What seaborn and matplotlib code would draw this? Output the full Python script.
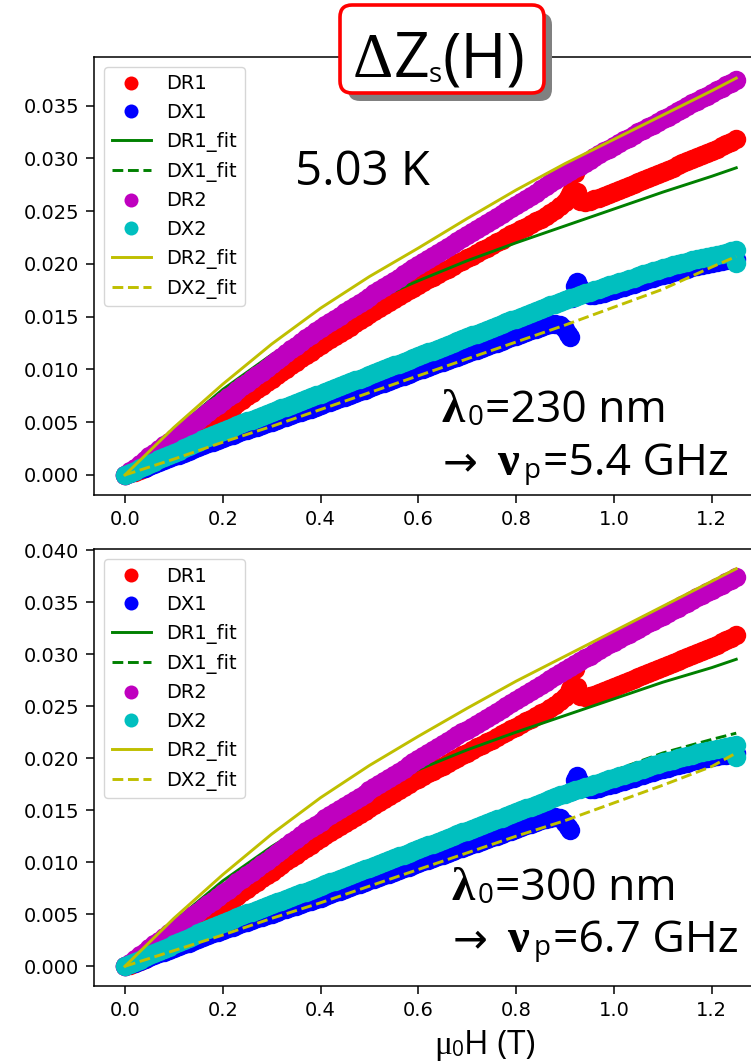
import matplotlib
matplotlib.use("Agg")
import matplotlib.pyplot as plt
import seaborn as sns
from matplotlib.patches import FancyBboxPatch
from matplotlib.transforms import IdentityTransform

W, H = 751, 1061

# ---------------- data ----------------
FIELD = [round(0.01 * i, 2) for i in range(126)]

DR1 = [0.00000, 0.00015, 0.00030, 0.00050, 0.00070, 0.00095, 0.00120, 0.00150, 0.00180, 0.00215,
       0.00250, 0.00282, 0.00314, 0.00347, 0.00380, 0.00414, 0.00448, 0.00481, 0.00514, 0.00547,
       0.00580, 0.00613, 0.00646, 0.00679, 0.00712, 0.00745, 0.00778, 0.00811, 0.00844, 0.00877,
       0.00910, 0.00943, 0.00976, 0.01008, 0.01040, 0.01072, 0.01104, 0.01136, 0.01168, 0.01200,
       0.01232, 0.01261, 0.01290, 0.01319, 0.01348, 0.01377, 0.01406, 0.01435, 0.01464, 0.01493,
       0.01522, 0.01551, 0.01580, 0.01608, 0.01636, 0.01664, 0.01692, 0.01720, 0.01748, 0.01776,
       0.01804, 0.01829, 0.01854, 0.01879, 0.01904, 0.01929, 0.01954, 0.01979, 0.02004, 0.02029,
       0.02054, 0.02079, 0.02104, 0.02129, 0.02154, 0.02179, 0.02204, 0.02229, 0.02254, 0.02279,
       0.02304, 0.02329, 0.02354, 0.02379, 0.02404, 0.02429, 0.02456, 0.02484, 0.02512, 0.02545,
       0.02590, 0.02660, 0.02860, 0.02600, 0.02585, 0.02595, 0.02610, 0.02628, 0.02647, 0.02666,
       0.02685, 0.02704, 0.02723, 0.02742, 0.02761, 0.02780, 0.02799, 0.02818, 0.02837, 0.02856,
       0.02875, 0.02894, 0.02913, 0.02932, 0.02951, 0.02970, 0.02990, 0.03010, 0.03030, 0.03050,
       0.03070, 0.03092, 0.03114, 0.03136, 0.03158, 0.03180]
DR1_JUMP_H = [0.905, 0.915, 0.925]
DR1_JUMP = [0.0262, 0.0270, 0.0268]

DX1 = [0.00000, 0.00018, 0.00035, 0.00053, 0.00070, 0.00088, 0.00105, 0.00123, 0.00140, 0.00158,
       0.00175, 0.00193, 0.00210, 0.00228, 0.00245, 0.00263, 0.00280, 0.00298, 0.00315, 0.00333,
       0.00350, 0.00366, 0.00381, 0.00397, 0.00412, 0.00428, 0.00443, 0.00459, 0.00474, 0.00490,
       0.00505, 0.00521, 0.00536, 0.00552, 0.00567, 0.00583, 0.00598, 0.00614, 0.00629, 0.00645,
       0.00660, 0.00677, 0.00693, 0.00710, 0.00726, 0.00743, 0.00759, 0.00776, 0.00792, 0.00809,
       0.00825, 0.00842, 0.00858, 0.00875, 0.00891, 0.00908, 0.00924, 0.00941, 0.00957, 0.00974,
       0.00990, 0.01007, 0.01023, 0.01040, 0.01056, 0.01073, 0.01089, 0.01106, 0.01122, 0.01139,
       0.01155, 0.01172, 0.01188, 0.01205, 0.01221, 0.01238, 0.01254, 0.01271, 0.01287, 0.01304,
       0.01320, 0.01337, 0.01353, 0.01370, 0.01386, 0.01403, 0.01418, 0.01428, 0.01432, 0.01420,
       0.01380, 0.01310, 0.01790, 0.01770, 0.01720, 0.01705, 0.01705, 0.01715, 0.01728, 0.01742,
       0.01756, 0.01770, 0.01784, 0.01798, 0.01812, 0.01826, 0.01840, 0.01854, 0.01868, 0.01882,
       0.01896, 0.01908, 0.01920, 0.01932, 0.01944, 0.01956, 0.01968, 0.01980, 0.01990, 0.02000,
       0.02010, 0.02018, 0.02026, 0.02034, 0.02042, 0.02050]
DX1_JUMP_H = [0.905, 0.915, 0.925]
DX1_JUMP = [0.0134, 0.0168, 0.0183]

DR2 = [0.00000, 0.00035, 0.00070, 0.00105, 0.00140, 0.00175, 0.00210, 0.00245, 0.00280, 0.00315,
       0.00350, 0.00385, 0.00420, 0.00455, 0.00490, 0.00525, 0.00560, 0.00595, 0.00630, 0.00665,
       0.00700, 0.00735, 0.00770, 0.00805, 0.00840, 0.00875, 0.00910, 0.00945, 0.00980, 0.01015,
       0.01050, 0.01085, 0.01120, 0.01155, 0.01190, 0.01225, 0.01260, 0.01295, 0.01330, 0.01360,
       0.01390, 0.01420, 0.01450, 0.01480, 0.01510, 0.01540, 0.01570, 0.01600, 0.01630, 0.01660,
       0.01690, 0.01720, 0.01750, 0.01780, 0.01810, 0.01840, 0.01870, 0.01900, 0.01930, 0.01960,
       0.01990, 0.02019, 0.02047, 0.02076, 0.02104, 0.02133, 0.02161, 0.02190, 0.02218, 0.02247,
       0.02275, 0.02304, 0.02332, 0.02361, 0.02389, 0.02418, 0.02446, 0.02475, 0.02503, 0.02532,
       0.02560, 0.02589, 0.02618, 0.02647, 0.02676, 0.02705, 0.02734, 0.02763, 0.02792, 0.02821,
       0.02850, 0.02877, 0.02904, 0.02931, 0.02958, 0.02985, 0.03012, 0.03039, 0.03066, 0.03093,
       0.03120, 0.03145, 0.03170, 0.03195, 0.03220, 0.03245, 0.03270, 0.03295, 0.03320, 0.03345,
       0.03370, 0.03395, 0.03420, 0.03445, 0.03470, 0.03495, 0.03520, 0.03545, 0.03570, 0.03595,
       0.03620, 0.03644, 0.03668, 0.03692, 0.03716, 0.03740]

DX2 = [0.00000, 0.00021, 0.00042, 0.00063, 0.00084, 0.00105, 0.00126, 0.00147, 0.00168, 0.00189,
       0.00210, 0.00231, 0.00252, 0.00273, 0.00294, 0.00315, 0.00336, 0.00357, 0.00378, 0.00399,
       0.00420, 0.00438, 0.00455, 0.00473, 0.00490, 0.00508, 0.00525, 0.00543, 0.00560, 0.00578,
       0.00595, 0.00613, 0.00630, 0.00648, 0.00665, 0.00683, 0.00700, 0.00718, 0.00735, 0.00753,
       0.00770, 0.00788, 0.00806, 0.00823, 0.00841, 0.00859, 0.00877, 0.00895, 0.00912, 0.00930,
       0.00948, 0.00966, 0.00984, 0.01001, 0.01019, 0.01037, 0.01055, 0.01073, 0.01090, 0.01108,
       0.01126, 0.01144, 0.01162, 0.01179, 0.01197, 0.01215, 0.01233, 0.01251, 0.01268, 0.01286,
       0.01304, 0.01322, 0.01340, 0.01357, 0.01375, 0.01393, 0.01411, 0.01429, 0.01446, 0.01464,
       0.01482, 0.01500, 0.01518, 0.01535, 0.01553, 0.01571, 0.01589, 0.01607, 0.01624, 0.01642,
       0.01660, 0.01675, 0.01690, 0.01705, 0.01720, 0.01735, 0.01750, 0.01765, 0.01780, 0.01795,
       0.01810, 0.01825, 0.01840, 0.01855, 0.01870, 0.01885, 0.01900, 0.01915, 0.01930, 0.01945,
       0.01960, 0.01973, 0.01986, 0.01998, 0.02010, 0.02022, 0.02034, 0.02045, 0.02056, 0.02066,
       0.02076, 0.02086, 0.02096, 0.02106, 0.02118, 0.02130]
DX2_END_H = [1.25]
DX2_END = [0.0201]

FIT_H = [0.0, 0.1, 0.2, 0.3, 0.4, 0.5, 0.6, 0.7, 0.8, 0.9, 1.0, 1.1, 1.2, 1.25]
# panel 1 fits (lambda0 = 230 nm)
DR1_FIT_A = [0, 0.0042, 0.0081, 0.0114, 0.0141, 0.0164, 0.0184, 0.0203, 0.0220, 0.0236, 0.0252, 0.0268, 0.0283, 0.0291]
DX1_FIT_A = [0, 0.0022, 0.0043, 0.0062, 0.0080, 0.0098, 0.0116, 0.0133, 0.0151, 0.0168, 0.0184, 0.0199, 0.0212, 0.0220]
DR2_FIT_A = [0, 0.0045, 0.0086, 0.0124, 0.0158, 0.0188, 0.0215, 0.0243, 0.0270, 0.0295, 0.0318, 0.0341, 0.0364, 0.0376]
DX2_FIT_A = [0, 0.0015, 0.0031, 0.0046, 0.0062, 0.0078, 0.0094, 0.0110, 0.0126, 0.0142, 0.0159, 0.0176, 0.0197, 0.0207]
# panel 2 fits (lambda0 = 300 nm)
DR1_FIT_B = [0, 0.0043, 0.0082, 0.0115, 0.0144, 0.0168, 0.0189, 0.0208, 0.0225, 0.0241, 0.0257, 0.0273, 0.0287, 0.0295]
DX1_FIT_B = [0, 0.0022, 0.0043, 0.0062, 0.0080, 0.0099, 0.0117, 0.0134, 0.0152, 0.0170, 0.0188, 0.0205, 0.0218, 0.0224]
DR2_FIT_B = [0, 0.0046, 0.0088, 0.0127, 0.0162, 0.0193, 0.0221, 0.0248, 0.0274, 0.0298, 0.0322, 0.0346, 0.0370, 0.0382]
DX2_FIT_B = [0, 0.0015, 0.0030, 0.0046, 0.0061, 0.0077, 0.0093, 0.0109, 0.0125, 0.0140, 0.0157, 0.0174, 0.0192, 0.0205]

LABELS = ["DR1", "DX1", "DR1_fit", "DX1_fit", "DR2", "DX2", "DR2_fit", "DX2_fit"]
TICKS_A = [0.000, 0.005, 0.010, 0.015, 0.020, 0.025, 0.030, 0.035]
TICKS_B = [0.000, 0.005, 0.010, 0.015, 0.020, 0.025, 0.030, 0.035, 0.040]
X_TICKS = [0.0, 0.2, 0.4, 0.6, 0.8, 1.0, 1.2]

# ---------------- figure ----------------
plt.rcParams["axes.linewidth"] = 1.1
fig = plt.figure(figsize=(W / 100, H / 100), dpi=100)
renderer = fig.canvas.get_renderer()

SANS = ["Open Sans", "DejaVu Sans"]
SERIF = ["Liberation Serif", "DejaVu Serif"]

MS = 14
LW = 2.1


def pts(ax, x, y, color, label):
    sns.lineplot(x=x, y=y, ax=ax, color=color, marker="o", linestyle="",
                 markersize=MS, markeredgewidth=0, estimator=None, sort=False,
                 label=label)


def fit(ax, y, color, ls, label):
    sns.lineplot(x=FIT_H, y=y, ax=ax, color=color, linestyle=ls, linewidth=LW,
                 estimator=None, label=label)


def panel(rect, fits, ylim, yticks):
    ax = fig.add_axes(rect)
    pts(ax, FIELD + DR1_JUMP_H, DR1 + DR1_JUMP, "r", LABELS[0])
    pts(ax, FIELD + DX1_JUMP_H, DX1 + DX1_JUMP, "b", LABELS[1])
    fit(ax, fits[0], "g", "-", LABELS[2])
    fit(ax, fits[1], "g", "--", LABELS[3])
    pts(ax, FIELD, DR2, "m", LABELS[4])
    pts(ax, FIELD + DX2_END_H, DX2 + DX2_END, "c", LABELS[5])
    fit(ax, fits[2], "y", "-", LABELS[6])
    fit(ax, fits[3], "y", "--", LABELS[7])
    ax.set_xlim(-0.0625, 1.3125)
    ax.set_ylim(*ylim)
    ax.set_xticks(X_TICKS)
    ax.set_xticklabels([f"{v:.1f}" for v in X_TICKS])
    ax.set_yticks(yticks)
    ax.set_yticklabels([f"{v:.3f}" for v in yticks])
    ax.tick_params(labelsize=14, length=6, width=1.1, pad=5)
    ax.set_xlabel("")
    ax.set_ylabel("")
    ax.legend(loc="upper left", fontsize=14, labelspacing=0.5, markerscale=0.72,
              handlelength=2.0, borderpad=0.4)
    return ax


ax1 = panel([94.4 / W, (H - 495) / H, 672.4 / W, 438 / H],
            [DR1_FIT_A, DX1_FIT_A, DR2_FIT_A, DX2_FIT_A], (-0.0019, 0.0396), TICKS_A)
ax2 = panel([94.4 / W, (H - 986) / H, 672.4 / W, 437 / H],
            [DR1_FIT_B, DX1_FIT_B, DR2_FIT_B, DX2_FIT_B], (-0.0019, 0.0401), TICKS_B)


def put(s, x, base, size, family, weight="normal"):
    return fig.text(x / W, 1 - base / H, s, fontsize=size, family=family, weight=weight,
                    ha="left", va="baseline", zorder=10)


def chain(x, base, pieces):
    for s, size, family, weight, dy in pieces:
        t = put(s, x, base + dy, size, family, weight)
        x += t.get_window_extent(renderer).width


# title box with shadow
shadow = FancyBboxPatch((348, H - 101), 204, 88, boxstyle="round,pad=0,rounding_size=12",
                        transform=IdentityTransform(), facecolor="#808080",
                        edgecolor="none", zorder=5)
box = FancyBboxPatch((340, H - 93), 204, 88, boxstyle="round,pad=0,rounding_size=12",
                     transform=IdentityTransform(), facecolor="white",
                     edgecolor="#ff0000", linewidth=2.6, zorder=6)
fig.add_artist(shadow)
fig.add_artist(box)
chain(353, 77, [("Δ", 45, SERIF, "normal", 0),
                ("Z", 45, SANS, "normal", 0),
                ("s", 20, SANS, "normal", 5),
                ("(H)", 45, SANS, "normal", 0)])

# temperature
put("5.03 K", 295, 185, 34, SANS)

# panel 1 annotation
put("λ", 441, 422, 34, SERIF, "bold")
put("0", 468, 425, 20, SANS)
put("=230 nm", 485, 422, 32, SANS)
put("→", 443, 475, 30, ["DejaVu Sans"])
put("ν", 497, 475, 35, SERIF, "bold")
put("p", 524, 478, 20, SANS)
put("=5.4 GHz", 543, 475, 32, SANS)

# panel 2 annotation
put("λ", 451, 900, 34, SERIF, "bold")
put("0", 478, 903, 20, SANS)
put("=300 nm", 495, 900, 32, SANS)
put("→", 453, 952, 30, ["DejaVu Sans"])
put("ν", 507, 952, 35, SERIF, "bold")
put("p", 534, 955, 20, SANS)
put("=6.7 GHz", 553, 952, 32, SANS)

# x label
chain(434, 1054, [("μ", 24, SERIF, "normal", 0),
                  ("0", 15, SANS, "normal", 2),
                  ("H (T)", 24, SANS, "normal", 0)])

fig.savefig("out.png", dpi=100)
